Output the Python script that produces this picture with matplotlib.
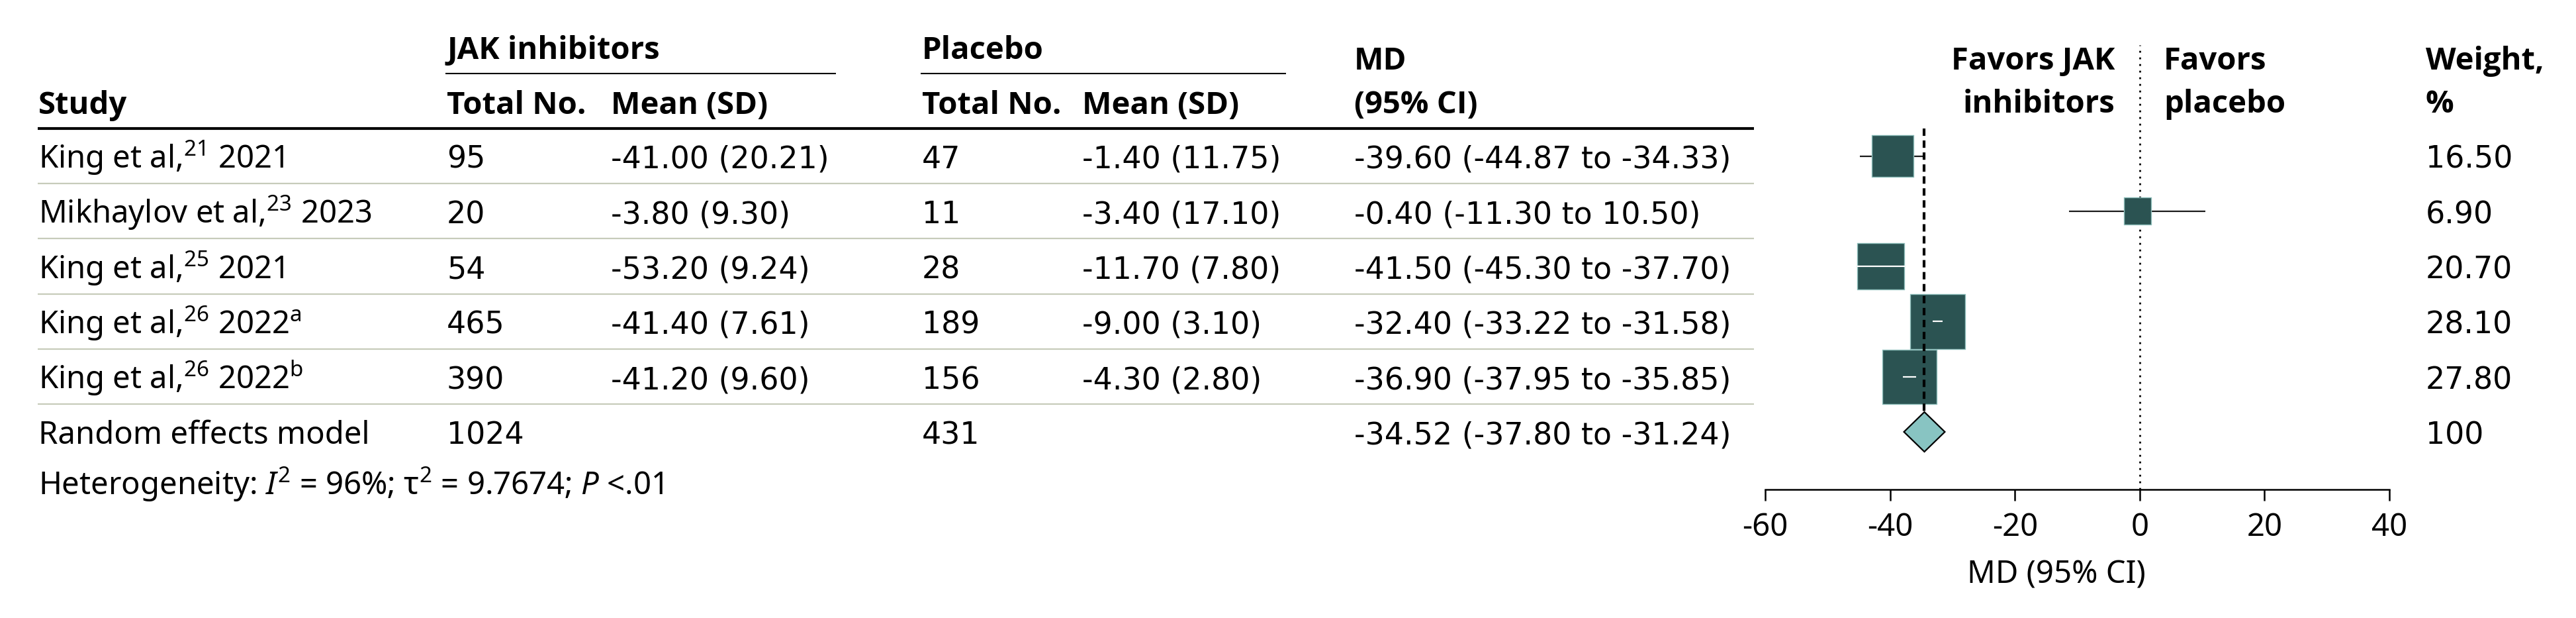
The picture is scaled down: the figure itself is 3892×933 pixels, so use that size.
import matplotlib
matplotlib.use('Agg')
import matplotlib.pyplot as plt
from matplotlib import font_manager
import numpy as np


def family_with(style=None, min_weight=None, prefs=()):
    for fam in prefs:
        for f in font_manager.fontManager.ttflist:
            if f.name != fam:
                continue
            w = f.weight if isinstance(f.weight, int) else font_manager.weight_dict.get(f.weight, 400)
            if min_weight is not None and w < min_weight:
                continue
            if style is not None and f.style != style:
                continue
            return fam
    return 'DejaVu Sans'


PREFS = ['Noto Sans', 'Open Sans', 'Lato', 'Roboto', 'DejaVu Sans']
REG_FAM = 'Noto Sans'
NUM_FAM = 'DejaVu Sans'
BOLD_FAM = family_with(min_weight=600, prefs=PREFS)
ITAL_FAM = family_with(style='italic', prefs=PREFS)

plt.rcParams['font.family'] = [REG_FAM, 'DejaVu Sans']
plt.rcParams['mathtext.fontset'] = 'custom'
plt.rcParams['mathtext.rm'] = REG_FAM
plt.rcParams['mathtext.it'] = ITAL_FAM + ':italic'
plt.rcParams['mathtext.bf'] = BOLD_FAM + ':bold'
plt.rcParams['axes.unicode_minus'] = False
plt.rcParams['lines.scale_dashes'] = False

# ---------------- data ----------------
studies = ['King et al,$^{21}$ 2021',
           'Mikhaylov et al,$^{23}$ 2023',
           'King et al,$^{25}$ 2021',
           'King et al,$^{26}$ 2022$^{\\mathrm{a}}$',
           'King et al,$^{26}$ 2022$^{\\mathrm{b}}$']
jak_n = [95, 20, 54, 465, 390]
jak_mean = [-41.00, -3.80, -53.20, -41.40, -41.20]
jak_sd = [20.21, 9.30, 9.24, 7.61, 9.60]
pbo_n = [47, 11, 28, 189, 156]
pbo_mean = [-1.40, -3.40, -11.70, -9.00, -4.30]
pbo_sd = [11.75, 17.10, 7.80, 3.10, 2.80]
md = [-39.60, -0.40, -41.50, -32.40, -36.90]
md_lo = [-44.87, -11.30, -45.30, -33.22, -37.95]
md_hi = [-34.33, 10.50, -37.70, -31.58, -35.85]
weights = [16.50, 6.90, 20.70, 28.10, 27.80]
pooled_md = -34.52
pooled_lo = -37.80
pooled_hi = -31.24
pooled_weight = 100
total_jak = 1024
total_pbo = 431
heterogeneity = 'Heterogeneity: $\\mathit{I}^{2}$ = 96%; τ$^{2}$ = 9.7674; $\\mathit{P}$ <.01'
xticks = [-60, -40, -20, 0, 20, 40]

# ---------------- layout (pixels) ----------------
W, H, DPI = 3892, 933, 100
ROW0, ROW_H = 235.5, 83.3
X0_PX, X1_PX = 2667.3, 3610.0
AXIS_Y, TOP_Y = 739.3, 68.0
FS = 34
NUM_FS = 33
BASE_OFF = 18.5
SQ_COLOR = '#2B5352'
SQ_EDGE = '#8FBFBC'
DIA_COLOR = '#88C4C2'
SEP_COLOR = '#C7CBBA'

fig = plt.figure(figsize=(W / DPI, H / DPI), dpi=DPI)
fig.patch.set_facecolor('white')

# table overlay axes in pixel units
tab = fig.add_axes([0, 0, 1, 1])
tab.set_xlim(0, W)
tab.set_ylim(H, 0)
tab.axis('off')


def txt(x, y, s, bold=False, ha='left', num=False):
    if bold:
        tab.text(x, y, s, fontsize=FS, fontweight='bold', family=[BOLD_FAM, 'DejaVu Sans'],
                 ha=ha, va='baseline', color='black')
    elif num:
        tab.text(x, y, s, fontsize=NUM_FS, family=[NUM_FAM], ha=ha, va='baseline',
                 color='black')
    else:
        tab.text(x, y, s, fontsize=FS, ha=ha, va='baseline', color='black')


# column x positions
C_STUDY, C_JN, C_JM, C_PN, C_PM, C_MD, C_W = 58, 675, 923, 1393, 1635, 2046, 3665
TABLE_L, TABLE_R = 57, 2650

# headers
txt(C_STUDY, 172, 'Study', bold=True)
txt(C_JN, 89, 'JAK inhibitors', bold=True)
tab.plot([673, 1263], [111, 111], color='black', lw=1.5, solid_capstyle='butt')
txt(C_JN, 172, 'Total No.', bold=True)
txt(C_JM, 172, 'Mean (SD)', bold=True)
txt(C_PN, 89, 'Placebo', bold=True)
tab.plot([1391, 1943], [111, 111], color='black', lw=1.5, solid_capstyle='butt')
txt(C_PN, 172, 'Total No.', bold=True)
txt(C_PM, 172, 'Mean (SD)', bold=True)
txt(C_MD, 105, 'MD', bold=True)
txt(C_MD, 171, '(95% CI)', bold=True)
txt(3195, 105, 'Favors JAK', bold=True, ha='right')
txt(3195, 170, 'inhibitors', bold=True, ha='right')
txt(3269, 105, 'Favors', bold=True)
txt(3269, 170, 'placebo', bold=True)
txt(C_W, 105, 'Weight,', bold=True)
txt(C_W, 170, '%', bold=True)

tab.plot([TABLE_L, TABLE_R], [ROW0 - ROW_H / 2] * 2, color='black', lw=3.0,
         solid_capstyle='butt')

n = len(studies)
for i in range(n):
    yb = ROW0 + i * ROW_H + BASE_OFF
    txt(C_STUDY, yb, studies[i])
    txt(C_JN, yb, f'{jak_n[i]}', num=True)
    txt(C_JM, yb, f'{jak_mean[i]:.2f} ({jak_sd[i]:.2f})', num=True)
    txt(C_PN, yb, f'{pbo_n[i]}', num=True)
    txt(C_PM, yb, f'{pbo_mean[i]:.2f} ({pbo_sd[i]:.2f})', num=True)
    txt(C_MD, yb, f'{md[i]:.2f} ({md_lo[i]:.2f} to {md_hi[i]:.2f})', num=True)
    txt(C_W, yb, f'{weights[i]:.2f}', num=True)
    ysep = ROW0 + (i + 0.5) * ROW_H
    tab.plot([TABLE_L, TABLE_R], [ysep, ysep], color=SEP_COLOR, lw=1.6,
             solid_capstyle='butt')

yb = ROW0 + n * ROW_H + BASE_OFF
txt(C_STUDY, yb, 'Random effects model')
txt(C_JN, yb, f'{total_jak}', num=True)
txt(C_PN, yb, f'{total_pbo}', num=True)
txt(C_MD, yb, f'{pooled_md:.2f} ({pooled_lo:.2f} to {pooled_hi:.2f})', num=True)
txt(C_W, yb, f'{pooled_weight}', num=True)
txt(C_STUDY, 747, heterogeneity)

# ---------------- forest axes ----------------
fa = fig.add_axes([X0_PX / W, 1 - AXIS_Y / H, (X1_PX - X0_PX) / W, (AXIS_Y - TOP_Y) / H])
fa.patch.set_alpha(0)
fa.set_xlim(xticks[0], xticks[-1])
fa.set_ylim((AXIS_Y - ROW0) / ROW_H, (TOP_Y - ROW0) / ROW_H)
for s in ['top', 'left', 'right']:
    fa.spines[s].set_visible(False)
fa.spines['bottom'].set_linewidth(1.8)
fa.set_yticks([])
fa.set_xticks(xticks)
fa.set_xticklabels([f'{t}' for t in xticks])
fa.tick_params(axis='x', direction='out', length=12, width=1.8, labelsize=FS, pad=12)
fa.set_xlabel('MD (95% CI)', fontsize=FS, labelpad=18, x=0.466)

rows = np.arange(n)
# null line (dotted)
fa.axvline(0, color='black', lw=2.0, dashes=(2.0, 5.2), zorder=1)

px_per_unit = (X1_PX - X0_PX) / (xticks[-1] - xticks[0])
sizes = [125 * w for w in weights]
for i in range(n):
    half_ci_px = (md_hi[i] - md_lo[i]) / 2 * px_per_unit
    half_sq_px = np.sqrt(sizes[i]) * DPI / 72 / 2
    inside = half_ci_px < half_sq_px + 2
    fa.plot([md_lo[i], md_hi[i]], [rows[i], rows[i]],
            color='white' if inside else '#1a1a1a', lw=1.6,
            solid_capstyle='butt', zorder=4 if inside else 2)
fa.scatter(md, rows, s=sizes, marker='s', color=SQ_COLOR, edgecolors=SQ_EDGE,
           linewidths=1.0, zorder=3)

# pooled diamond
dh = 0.36
fa.fill([pooled_lo, pooled_md, pooled_hi, pooled_md],
        [n, n - dh, n, n + dh], facecolor=DIA_COLOR, edgecolor='black',
        lw=1.6, zorder=5)
# pooled estimate (dashed)
fa.plot([pooled_md, pooled_md], [-0.5, n - dh], color='black', lw=3.0,
        dashes=(8, 5), zorder=6)

fig.savefig('out.png', dpi=DPI, facecolor='white')
